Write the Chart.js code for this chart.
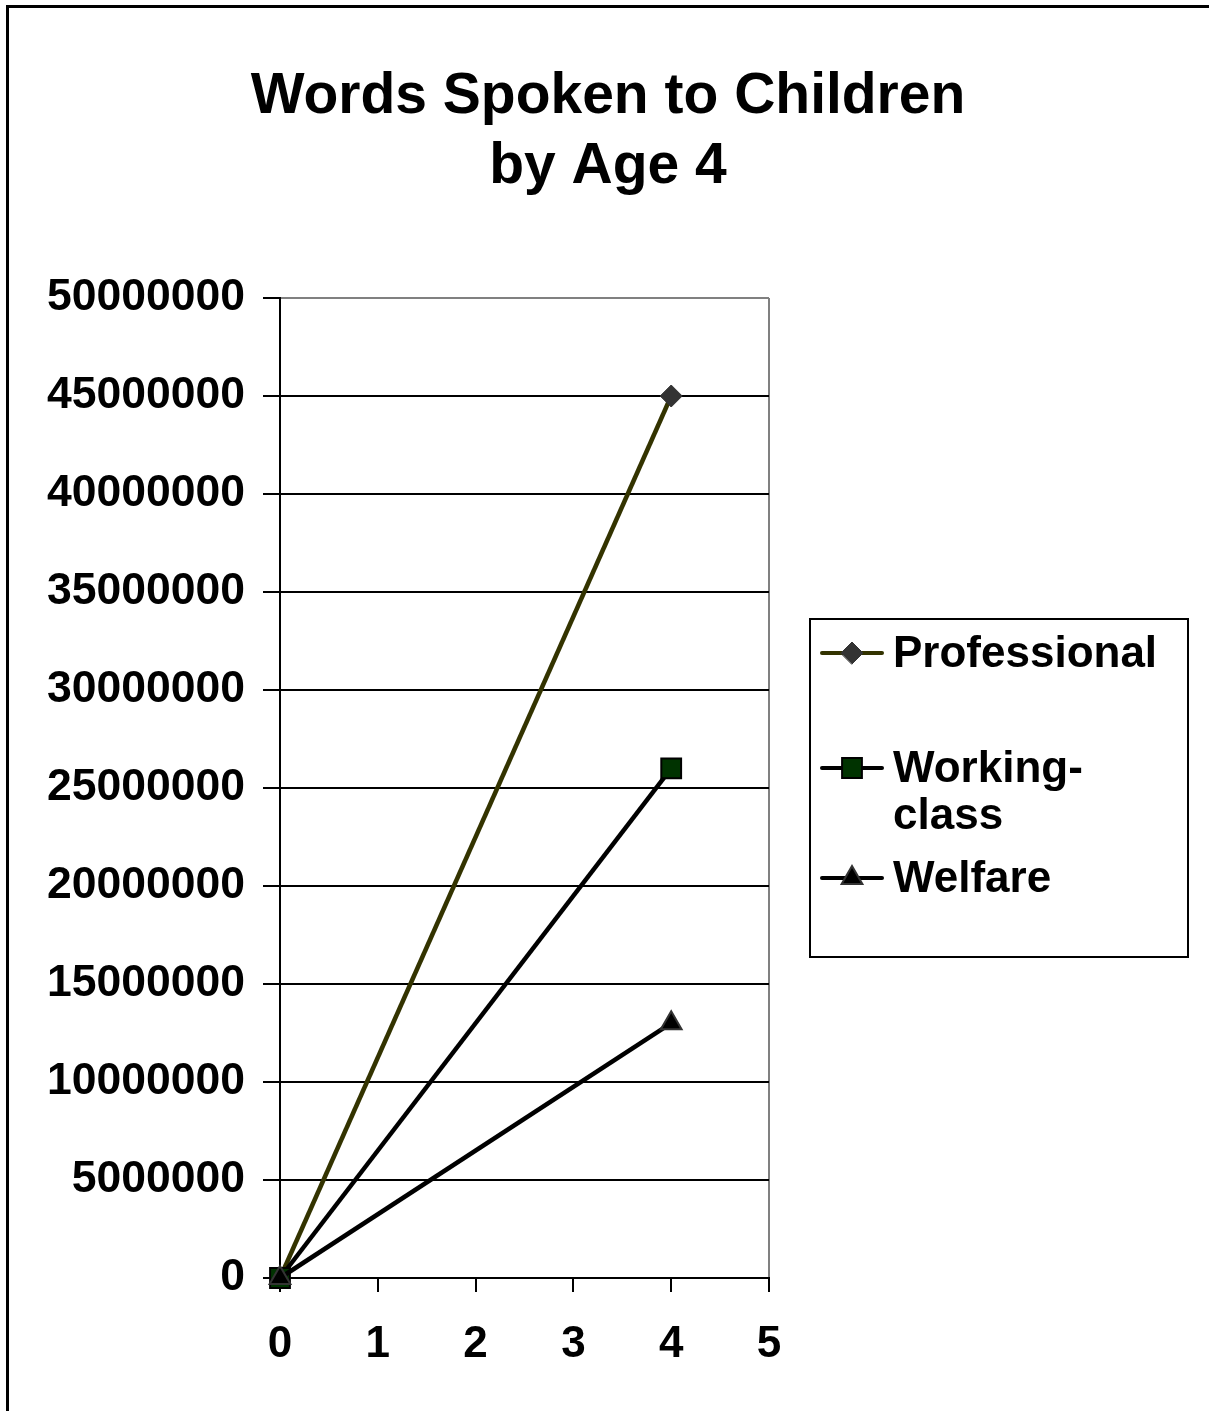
<!DOCTYPE html>
<html>
<head>
<meta charset="utf-8">
<title>Words Spoken to Children by Age 4</title>
<script src="https://cdn.jsdelivr.net/npm/chart.js@4.4.1/dist/chart.umd.min.js"></script>
<style>
  body { margin: 0; background: #fff; }
  #wrap { position: relative; width: 1209px; height: 1411px; overflow: hidden; }
  #frame { position: absolute; left: 6px; top: 5px; width: 1230px; height: 1430px;
           border: 3px solid #000; pointer-events: none; }
</style>
</head>
<body>
<div id="wrap">
  <canvas id="myChart" width="1209" height="1411"></canvas>
  <div id="frame"></div>
</div>
<script>
"use strict";

// data
const ages = [0, 4];
const professional = [0, 45000000];
const workingClass = [0, 26000000];
const welfare = [0, 13000000];
const seriesNames = ["Professional", "Working-class", "Welfare"];
const legendLines = [["Professional"], ["Working-", "class"], ["Welfare"]];
const titleLines = ["Words Spoken to Children", "by Age 4"];
const yMax = 50000000;
const yStep = 5000000;
const xMax = 5;

const FONT = "'Liberation Sans', Arial, Helvetica, sans-serif";

function toPoints(vals) {
  return ages.map(function (a, i) { return { x: a, y: vals[i] }; });
}

const datasets = [
  {
    label: seriesNames[0],
    data: toPoints(professional),
    borderColor: "#333300",
    borderWidth: 4.5,
    pointStyle: "rectRot",
    pointRadius: 11,
    pointBackgroundColor: "#333333",
    pointBorderColor: "#333333",
    pointBorderWidth: 1,
    clip: false,
    order: 3
  },
  {
    label: seriesNames[1],
    data: toPoints(workingClass),
    borderColor: "#000000",
    borderWidth: 4.5,
    pointStyle: "rect",
    pointRadius: 14,
    pointBackgroundColor: "#003300",
    pointBorderColor: "#000000",
    pointBorderWidth: 2,
    clip: false,
    order: 2
  },
  {
    label: seriesNames[2],
    data: toPoints(welfare),
    borderColor: "#000000",
    borderWidth: 4.5,
    pointStyle: "triangle",
    pointRadius: 12,
    pointBackgroundColor: "#000000",
    pointBorderColor: "#333333",
    pointBorderWidth: 2,
    clip: false,
    order: 1
  }
];

// title + legend drawn by hand (legend has a two line entry)
const extras = {
  id: "extras",
  afterDraw(chart) {
    const ctx = chart.ctx;
    ctx.save();
    ctx.fillStyle = "#000";
    ctx.textAlign = "center";
    ctx.textBaseline = "alphabetic";
    ctx.font = "bold 57px " + FONT;
    ctx.fillText(titleLines[0], 608, 113);
    ctx.fillText(titleLines[1], 608, 183);

    // legend box
    ctx.strokeStyle = "#000";
    ctx.lineWidth = 2;
    ctx.strokeRect(810, 619, 378, 338);

    const rowY = [653, 768, 878];
    chart.data.datasets.forEach(function (ds, i) {
      const y = rowY[i];
      ctx.strokeStyle = ds.borderColor;
      ctx.lineWidth = 4;
      ctx.lineCap = "round";
      ctx.beginPath();
      ctx.moveTo(822, y);
      ctx.lineTo(882, y);
      ctx.stroke();
      ctx.fillStyle = ds.pointBackgroundColor;
      ctx.strokeStyle = ds.pointBorderColor;
      ctx.lineWidth = ds.pointBorderWidth;
      Chart.helpers.drawPoint(ctx, {
        pointStyle: ds.pointStyle,
        radius: ds.pointRadius,
        rotation: 0,
        borderWidth: ds.pointBorderWidth
      }, 852, y);
      ctx.fillStyle = "#000";
      ctx.font = "bold 44px " + FONT;
      ctx.textAlign = "left";
      ctx.textBaseline = "middle";
      legendLines[i].forEach(function (t, j) {
        ctx.fillText(t, 893, y + 2 + j * 47);
      });
    });
    ctx.restore();
  }
};

const config = {
  type: "line",
  data: { datasets: datasets },
  plugins: [extras],
  options: {
    responsive: false,
    animation: false,
    layout: { padding: { left: 0, top: 298, right: 440, bottom: 0 } },
    plugins: { legend: { display: false }, title: { display: false }, tooltip: { enabled: false } },
    scales: {
      x: {
        type: "linear",
        min: 0,
        max: xMax,
        afterFit: function (s) { s.height = 133; },
        ticks: {
          stepSize: 1,
          color: "#000",
          padding: 26,
          font: { family: FONT, size: 44, weight: "bold" }
        },
        grid: {
          color: function (c) { return c.tick && c.tick.value === xMax ? "#808080" : "rgba(0,0,0,0)"; },
          lineWidth: 2,
          tickColor: "#000",
          tickLength: 14,
          tickWidth: 2
        },
        border: { color: "#000", width: 2 }
      },
      y: {
        min: 0,
        max: yMax,
        afterFit: function (s) { s.width = 280; },
        ticks: {
          stepSize: yStep,
          color: "#000",
          padding: 18,
          font: { family: FONT, size: 44.5, weight: "bold" },
          callback: function (v) { return String(v); }
        },
        grid: {
          color: function (c) { return c.tick && c.tick.value === yMax ? "#808080" : "#000"; },
          lineWidth: 2,
          tickColor: "#000",
          tickLength: 17,
          tickWidth: 2
        },
        border: { color: "#000", width: 2 }
      }
    }
  }
};

const myChart = new Chart(document.getElementById("myChart"), config);
</script>
</body>
</html>
